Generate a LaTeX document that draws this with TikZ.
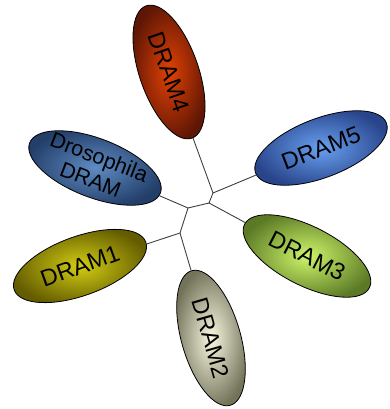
\documentclass[tikz,border=0pt]{standalone}
\usepackage{fontspec}
\setmainfont{Liberation Sans}
\usepackage{xcolor}
\usetikzlibrary{shapes.geometric}

\definecolor{redin}{RGB}{225,65,5}
\definecolor{redout}{RGB}{95,22,5}
\definecolor{bluein}{RGB}{105,160,240}
\definecolor{blueout}{RGB}{40,68,138}
\definecolor{steelin}{RGB}{95,140,195}
\definecolor{steelout}{RGB}{35,62,105}
\definecolor{olivein}{RGB}{210,205,20}
\definecolor{oliveout}{RGB}{100,92,0}
\definecolor{greenin}{RGB}{205,245,105}
\definecolor{greenout}{RGB}{92,122,38}
\definecolor{greyin}{RGB}{248,248,225}
\definecolor{greyout}{RGB}{115,115,90}

\tikzset{
  gene/.style={ellipse,draw=black,thick,inner sep=-22pt,
    minimum width=140pt,minimum height=59pt,
    font=\fontsize{23.5}{26}\selectfont,align=center,shading=radial},
  branch/.style={draw=black!75,line width=0.9pt}
}

\begin{document}
\begin{tikzpicture}[x=1pt,y=-1pt]
      \useasboundingbox (0,0) rectangle (390,409);
      % leaves
      \node [gene,rotate=-71,inner color=redin,outer color=redout] (d4) at (169,72) {DRAM4};
      \node [gene,rotate=21,inner color=bluein,outer color=blueout] (d5) at (321,148) {DRAM5};
      \node [gene,rotate=-21,inner color=steelin,outer color=steelout,
             font=\fontsize{21.5}{24}\selectfont] (dros) at (95,168) {Drosophila\\DRAM};
      \node [gene,rotate=-27,inner color=greenin,outer color=greenout] (d3) at (307,256) {DRAM3};
      \node [gene,rotate=20,inner color=olivein,outer color=oliveout] (d1) at (80,266) {DRAM1};
      \node [gene,rotate=-74,inner color=greyin,outer color=greyout] (d2) at (211,338) {DRAM2};
      % inner points of the tree
      \coordinate (j1) at (213,193);
      \coordinate (j2) at (209,203);
      \coordinate (j3) at (188,208);
      \coordinate (j4) at (180,233);
      \draw [branch] (d4) -- (j1) -- (d5);
      \draw [branch] (j1) -- (j2) -- (d3);
      \draw [branch] (j2) -- (j3) -- (dros);
      \draw [branch] (j3) -- (j4) -- (d1);
      \draw [branch] (j4) -- (d2);
    \end{tikzpicture}
\end{document}
